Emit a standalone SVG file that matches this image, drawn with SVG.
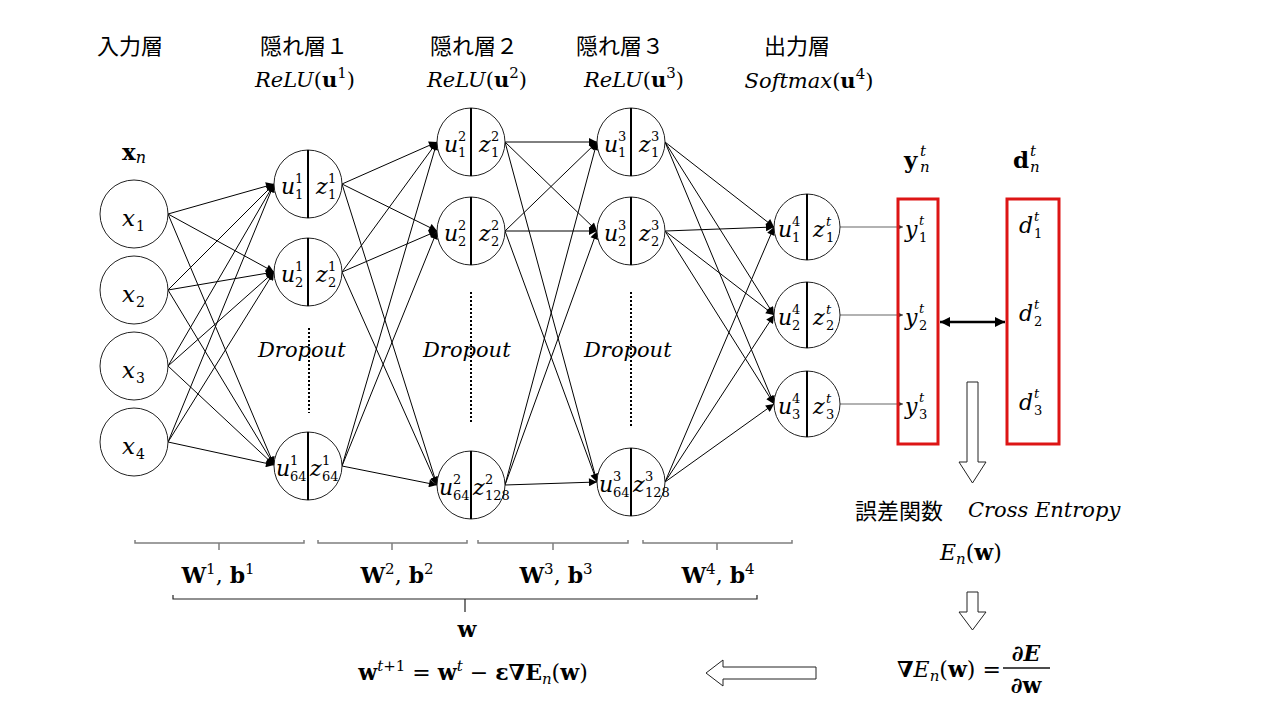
<svg xmlns="http://www.w3.org/2000/svg" width="1280" height="720" viewBox="0 0 1280 720">
<style>
text{fill:#000}
.nd circle{fill:#fff;stroke:#222;stroke-width:1}
.nd line{stroke:#000;stroke-width:2}
.m{font-family:"DejaVu Serif",serif;font-style:italic;font-size:22px}
.s{font-size:13px;font-style:normal}
.si{font-size:13px;font-style:italic}
.xi{font-family:"DejaVu Serif",serif;font-style:italic;font-size:23px}
.xs{font-size:14px;font-style:normal}
.jp{font-family:"Noto Sans CJK JP",sans-serif;font-size:22px}
.f{font-family:"DejaVu Serif",serif;font-size:21px}
.bd{font-weight:bold;font-style:normal}
.it{font-style:italic}
.up{font-style:normal;font-weight:normal}
.sup{font-size:15px}
.e line{stroke:#000;stroke-width:1}
.o line{stroke:#666;stroke-width:1.2}
.br{fill:none;stroke:#7f7f7f;stroke-width:1.5}
.bb{fill:none;stroke:#222;stroke-width:1.2}
.ha{fill:#fff;stroke:#222;stroke-width:1}
.rb{fill:none;stroke:#dd1515;stroke-width:3}
</style>
<defs>
<marker id="ah" viewBox="0 0 10 10" refX="10" refY="5" markerWidth="10" markerHeight="8" markerUnits="userSpaceOnUse" orient="auto"><path d="M0,0 L10,5 L0,10 z" fill="#000"/></marker>
<marker id="as" viewBox="0 0 10 10" refX="10" refY="5" markerWidth="6" markerHeight="6" markerUnits="userSpaceOnUse" orient="auto"><path d="M0,0 L10,5 L0,10 z" fill="#333"/></marker>
<marker id="ad" viewBox="0 0 10 10" refX="10" refY="5" markerWidth="11" markerHeight="10" markerUnits="userSpaceOnUse" orient="auto-start-reverse"><path d="M0,0 L10,5 L0,10 z" fill="#000"/></marker>
</defs>

<!-- headers -->
<g id="headers">
<text class="jp" x="97" y="54">入力層</text>
<text class="jp" x="260" y="54">隠れ層１</text>
<text class="jp" x="430" y="54">隠れ層２</text>
<text class="jp" x="576" y="54">隠れ層３</text>
<text class="jp" x="764" y="54">出力層</text>
<text class="m" x="305" y="87" text-anchor="middle" style="font-size:21px">ReLU<tspan class="up">(</tspan><tspan class="bd">u</tspan><tspan class="sup up" dy="-9">1</tspan><tspan class="up" dy="9">)</tspan></text>
<text class="m" x="477" y="87" text-anchor="middle" style="font-size:21px">ReLU<tspan class="up">(</tspan><tspan class="bd">u</tspan><tspan class="sup up" dy="-9">2</tspan><tspan class="up" dy="9">)</tspan></text>
<text class="m" x="634" y="87" text-anchor="middle" style="font-size:21px">ReLU<tspan class="up">(</tspan><tspan class="bd">u</tspan><tspan class="sup up" dy="-9">3</tspan><tspan class="up" dy="9">)</tspan></text>
<text class="m" x="809" y="88" text-anchor="middle" style="font-size:21px">Softmax<tspan class="up">(</tspan><tspan class="bd">u</tspan><tspan class="sup up" dy="-9">4</tspan><tspan class="up" dy="9">)</tspan></text>
<text class="f" y="160" style="font-size:23px"><tspan class="bd" x="122">x</tspan><tspan class="it" style="font-size:16px" dy="3">n</tspan></text>
<text class="f" y="168" style="font-size:23px"><tspan class="bd" x="904">y</tspan><tspan class="it" style="font-size:15px" x="920" y="156">t</tspan><tspan class="it" style="font-size:15px" x="920" y="172">n</tspan></text>
<text class="f" y="168" style="font-size:23px"><tspan class="bd" x="1013">d</tspan><tspan class="it" style="font-size:15px" x="1030" y="156">t</tspan><tspan class="it" style="font-size:15px" x="1030" y="172">n</tspan></text>
</g>

<!-- connectors -->
<g id="connectors">
<g class="e">
<line x1="168" y1="214" x2="274" y2="184" marker-end="url(#ah)"/>
<line x1="168" y1="214" x2="274" y2="272" marker-end="url(#ah)"/>
<line x1="168" y1="214" x2="274" y2="465" marker-end="url(#ah)"/>
<line x1="168" y1="290" x2="274" y2="184" marker-end="url(#ah)"/>
<line x1="168" y1="290" x2="274" y2="272" marker-end="url(#ah)"/>
<line x1="168" y1="290" x2="274" y2="465" marker-end="url(#ah)"/>
<line x1="168" y1="366" x2="274" y2="184" marker-end="url(#ah)"/>
<line x1="168" y1="366" x2="274" y2="272" marker-end="url(#ah)"/>
<line x1="168" y1="366" x2="274" y2="465" marker-end="url(#ah)"/>
<line x1="168" y1="442" x2="274" y2="184" marker-end="url(#ah)"/>
<line x1="168" y1="442" x2="274" y2="272" marker-end="url(#ah)"/>
<line x1="168" y1="442" x2="274" y2="465" marker-end="url(#ah)"/>

<line x1="342" y1="184" x2="437" y2="142" marker-end="url(#ah)"/>
<line x1="342" y1="184" x2="437" y2="231" marker-end="url(#ah)"/>
<line x1="342" y1="184" x2="437" y2="485" marker-end="url(#ah)"/>
<line x1="342" y1="272" x2="437" y2="142" marker-end="url(#ah)"/>
<line x1="342" y1="272" x2="437" y2="231" marker-end="url(#ah)"/>
<line x1="342" y1="272" x2="437" y2="485" marker-end="url(#ah)"/>
<line x1="342" y1="466" x2="437" y2="142" marker-end="url(#ah)"/>
<line x1="342" y1="466" x2="437" y2="231" marker-end="url(#ah)"/>
<line x1="342" y1="466" x2="437" y2="485" marker-end="url(#ah)"/>

<line x1="505" y1="142" x2="597" y2="142" marker-end="url(#ah)"/>
<line x1="505" y1="142" x2="597" y2="231" marker-end="url(#ah)"/>
<line x1="505" y1="142" x2="597" y2="482" marker-end="url(#ah)"/>
<line x1="505" y1="231" x2="597" y2="142" marker-end="url(#ah)"/>
<line x1="505" y1="231" x2="597" y2="231" marker-end="url(#ah)"/>
<line x1="505" y1="231" x2="597" y2="482" marker-end="url(#ah)"/>
<line x1="505" y1="485" x2="597" y2="142" marker-end="url(#ah)"/>
<line x1="505" y1="485" x2="597" y2="231" marker-end="url(#ah)"/>
<line x1="505" y1="485" x2="597" y2="482" marker-end="url(#ah)"/>

<line x1="665" y1="142" x2="774" y2="227" marker-end="url(#ah)"/>
<line x1="665" y1="142" x2="774" y2="315" marker-end="url(#ah)"/>
<line x1="665" y1="142" x2="774" y2="404" marker-end="url(#ah)"/>
<line x1="665" y1="231" x2="774" y2="227" marker-end="url(#ah)"/>
<line x1="665" y1="231" x2="774" y2="315" marker-end="url(#ah)"/>
<line x1="665" y1="231" x2="774" y2="404" marker-end="url(#ah)"/>
<line x1="665" y1="482" x2="774" y2="227" marker-end="url(#ah)"/>
<line x1="665" y1="482" x2="774" y2="315" marker-end="url(#ah)"/>
<line x1="665" y1="482" x2="774" y2="404" marker-end="url(#ah)"/>
</g>
<g class="o">
<line x1="840" y1="227" x2="903" y2="227" marker-end="url(#as)"/>
<line x1="840" y1="315" x2="903" y2="315" marker-end="url(#as)"/>
<line x1="840" y1="404" x2="903" y2="404" marker-end="url(#as)"/>
</g>
<line x1="940" y1="322" x2="1005" y2="322" stroke="#000" stroke-width="2.5" marker-start="url(#ad)" marker-end="url(#ad)"/>
</g>

<!-- input layer -->
<g id="x1" class="nd"><circle cx="134" cy="214" r="34"/><text class="xi" y="226"><tspan x="122">x</tspan><tspan class="xs" x="136" y="231">1</tspan></text></g>
<g id="x2" class="nd"><circle cx="134" cy="290" r="34"/><text class="xi" y="302"><tspan x="122">x</tspan><tspan class="xs" x="136" y="307">2</tspan></text></g>
<g id="x3" class="nd"><circle cx="134" cy="366" r="34"/><text class="xi" y="378"><tspan x="122">x</tspan><tspan class="xs" x="136" y="383">3</tspan></text></g>
<g id="x4" class="nd"><circle cx="134" cy="442" r="34"/><text class="xi" y="454"><tspan x="122">x</tspan><tspan class="xs" x="136" y="459">4</tspan></text></g>

<!-- hidden layer 1 -->
<g id="h1_1" class="nd"><circle cx="308" cy="184" r="34"/><line x1="308" y1="150" x2="308" y2="218"/>
<text class="m" y="194"><tspan x="281">u</tspan><tspan class="s" x="295" y="183">1</tspan><tspan class="s" x="295" y="199">1</tspan><tspan x="316" y="194">z</tspan><tspan class="s" x="328" y="183">1</tspan><tspan class="s" x="328" y="199">1</tspan></text></g>
<g id="h1_2" class="nd"><circle cx="308" cy="272" r="34"/><line x1="308" y1="238" x2="308" y2="306"/>
<text class="m" y="282"><tspan x="281">u</tspan><tspan class="s" x="295" y="271">1</tspan><tspan class="s" x="295" y="287">2</tspan><tspan x="316" y="282">z</tspan><tspan class="s" x="328" y="271">1</tspan><tspan class="s" x="328" y="287">2</tspan></text></g>
<g id="h1_64" class="nd"><circle cx="308" cy="466" r="34"/><line x1="308" y1="432" x2="308" y2="500"/>
<text class="m" y="476"><tspan x="276">u</tspan><tspan class="s" x="290" y="465">1</tspan><tspan class="s" x="290" y="481">64</tspan><tspan x="310" y="476">z</tspan><tspan class="s" x="322" y="465">1</tspan><tspan class="s" x="322" y="481">64</tspan></text></g>

<!-- hidden layer 2 -->
<g id="h2_1" class="nd"><circle cx="471" cy="142" r="34"/><line x1="471" y1="108" x2="471" y2="176"/>
<text class="m" y="152"><tspan x="444">u</tspan><tspan class="s" x="458" y="141">2</tspan><tspan class="s" x="458" y="157">1</tspan><tspan x="479" y="152">z</tspan><tspan class="s" x="491" y="141">2</tspan><tspan class="s" x="491" y="157">1</tspan></text></g>
<g id="h2_2" class="nd"><circle cx="471" cy="231" r="34"/><line x1="471" y1="197" x2="471" y2="265"/>
<text class="m" y="241"><tspan x="444">u</tspan><tspan class="s" x="458" y="230">2</tspan><tspan class="s" x="458" y="246">2</tspan><tspan x="479" y="241">z</tspan><tspan class="s" x="491" y="230">2</tspan><tspan class="s" x="491" y="246">2</tspan></text></g>
<g id="h2_128" class="nd"><circle cx="471" cy="485" r="34"/><line x1="471" y1="451" x2="471" y2="519"/>
<text class="m" y="495"><tspan x="439">u</tspan><tspan class="s" x="453" y="484">2</tspan><tspan class="s" x="453" y="500">64</tspan><tspan x="473" y="495">z</tspan><tspan class="s" x="485" y="484">2</tspan><tspan class="s" x="485" y="500">128</tspan></text></g>

<!-- hidden layer 3 -->
<g id="h3_1" class="nd"><circle cx="631" cy="142" r="34"/><line x1="631" y1="108" x2="631" y2="176"/>
<text class="m" y="152"><tspan x="604">u</tspan><tspan class="s" x="618" y="141">3</tspan><tspan class="s" x="618" y="157">1</tspan><tspan x="639" y="152">z</tspan><tspan class="s" x="651" y="141">3</tspan><tspan class="s" x="651" y="157">1</tspan></text></g>
<g id="h3_2" class="nd"><circle cx="631" cy="231" r="34"/><line x1="631" y1="197" x2="631" y2="265"/>
<text class="m" y="241"><tspan x="604">u</tspan><tspan class="s" x="618" y="230">3</tspan><tspan class="s" x="618" y="246">2</tspan><tspan x="639" y="241">z</tspan><tspan class="s" x="651" y="230">3</tspan><tspan class="s" x="651" y="246">2</tspan></text></g>
<g id="h3_128" class="nd"><circle cx="631" cy="482" r="34"/><line x1="631" y1="448" x2="631" y2="516"/>
<text class="m" y="492"><tspan x="599">u</tspan><tspan class="s" x="613" y="481">3</tspan><tspan class="s" x="613" y="497">64</tspan><tspan x="633" y="492">z</tspan><tspan class="s" x="645" y="481">3</tspan><tspan class="s" x="645" y="497">128</tspan></text></g>

<!-- output layer -->
<g id="o1" class="nd"><circle cx="807" cy="227" r="33"/><line x1="807" y1="194" x2="807" y2="260"/>
<text class="m" y="237"><tspan x="778">u</tspan><tspan class="s" x="792" y="226">4</tspan><tspan class="s" x="792" y="242">1</tspan><tspan x="813" y="237">z</tspan><tspan class="si" x="826" y="226">t</tspan><tspan class="s" x="826" y="242">1</tspan></text></g>
<g id="o2" class="nd"><circle cx="807" cy="315" r="33"/><line x1="807" y1="282" x2="807" y2="348"/>
<text class="m" y="325"><tspan x="778">u</tspan><tspan class="s" x="792" y="314">4</tspan><tspan class="s" x="792" y="330">2</tspan><tspan x="813" y="325">z</tspan><tspan class="si" x="826" y="314">t</tspan><tspan class="s" x="826" y="330">2</tspan></text></g>
<g id="o3" class="nd"><circle cx="807" cy="404" r="33"/><line x1="807" y1="371" x2="807" y2="437"/>
<text class="m" y="414"><tspan x="778">u</tspan><tspan class="s" x="792" y="403">4</tspan><tspan class="s" x="792" y="419">3</tspan><tspan x="813" y="414">z</tspan><tspan class="si" x="826" y="403">t</tspan><tspan class="s" x="826" y="419">3</tspan></text></g>

<!-- dropout markers -->
<g id="dropout">
<line x1="309" y1="328" x2="309" y2="413" stroke="#000" stroke-width="2" stroke-dasharray="2,2"/>
<line x1="471" y1="292" x2="471" y2="424" stroke="#000" stroke-width="2" stroke-dasharray="2,2"/>
<line x1="631" y1="292" x2="631" y2="428" stroke="#000" stroke-width="2" stroke-dasharray="2,2"/>
<text class="m" x="258" y="357" style="font-size:21px">Dropout</text>
<text class="m" x="423" y="357" style="font-size:21px">Dropout</text>
<text class="m" x="584" y="357" style="font-size:21px">Dropout</text>
</g>

<!-- output vector y -->
<g id="yvec">
<rect class="rb" x="898" y="199" width="40" height="245"/>
<text class="m" y="237"><tspan x="905">y</tspan><tspan class="si" x="919" y="225">t</tspan><tspan class="s" x="919" y="242">1</tspan></text>
<text class="m" y="325"><tspan x="905">y</tspan><tspan class="si" x="919" y="313">t</tspan><tspan class="s" x="919" y="330">2</tspan></text>
<text class="m" y="414"><tspan x="905">y</tspan><tspan class="si" x="919" y="402">t</tspan><tspan class="s" x="919" y="419">3</tspan></text>
</g>
<!-- target vector d -->
<g id="dvec">
<rect class="rb" x="1007" y="199" width="52" height="245"/>
<text class="m" y="233"><tspan x="1019">d</tspan><tspan class="si" x="1034" y="221">t</tspan><tspan class="s" x="1034" y="238">1</tspan></text>
<text class="m" y="321"><tspan x="1019">d</tspan><tspan class="si" x="1034" y="309">t</tspan><tspan class="s" x="1034" y="326">2</tspan></text>
<text class="m" y="410"><tspan x="1019">d</tspan><tspan class="si" x="1034" y="398">t</tspan><tspan class="s" x="1034" y="415">3</tspan></text>
</g>

<!-- error function -->
<g id="loss">
<polygon class="ha" points="967,382 978,382 978,462 986,462 972.5,483 959,462 967,462"/>
<text class="jp" x="855" y="519">誤差関数</text>
<text class="m" x="968" y="517" style="font-size:21px">Cross Entropy</text>
<text class="f" x="940" y="560" style="font-size:22px"><tspan class="it">E</tspan><tspan class="it" style="font-size:15px" dy="4">n</tspan><tspan dy="-4">(</tspan><tspan class="bd">w</tspan>)</text>
<polygon class="ha" points="967,592 978,592 978,612 986,612 972.5,630 959,612 967,612"/>
</g>

<!-- gradient -->
<g id="grad">
<text class="f" x="897" y="677" style="font-size:22px"><tspan class="bd">∇</tspan><tspan class="it">E</tspan><tspan class="it" style="font-size:15px" dy="4">n</tspan><tspan dy="-4">(</tspan><tspan class="bd">w</tspan>) =</text>
<text class="f" x="1026" y="661" text-anchor="middle" style="font-size:22px"><tspan class="bd">∂</tspan><tspan class="bd it">E</tspan></text>
<line x1="1003" y1="668" x2="1050" y2="668" stroke="#111" stroke-width="1.5"/>
<text class="f" x="1026" y="693" text-anchor="middle" style="font-size:22px"><tspan class="bd">∂w</tspan></text>
<polygon class="ha" points="816,667 816,679 723,679 723,686 706,673 723,660 723,667"/>
</g>

<!-- parameter brackets -->
<g id="params">
<path class="br" d="M135,540 V543 H304 V540 M219,543 V550"/>
<path class="br" d="M318,540 V543 H467 V540 M392,543 V550"/>
<path class="br" d="M478,540 V543 H628 V540 M553,543 V550"/>
<path class="br" d="M643,540 V543 H792 V540 M717,543 V550"/>
<text class="f" x="218" y="583" text-anchor="middle" style="font-size:22px"><tspan class="bd">W</tspan><tspan class="sup" dy="-9">1</tspan><tspan dy="9">, </tspan><tspan class="bd">b</tspan><tspan class="sup" dy="-9">1</tspan></text>
<text class="f" x="397" y="583" text-anchor="middle" style="font-size:22px"><tspan class="bd">W</tspan><tspan class="sup" dy="-9">2</tspan><tspan dy="9">, </tspan><tspan class="bd">b</tspan><tspan class="sup" dy="-9">2</tspan></text>
<text class="f" x="556" y="583" text-anchor="middle" style="font-size:22px"><tspan class="bd">W</tspan><tspan class="sup" dy="-9">3</tspan><tspan dy="9">, </tspan><tspan class="bd">b</tspan><tspan class="sup" dy="-9">3</tspan></text>
<text class="f" x="718" y="583" text-anchor="middle" style="font-size:22px"><tspan class="bd">W</tspan><tspan class="sup" dy="-9">4</tspan><tspan dy="9">, </tspan><tspan class="bd">b</tspan><tspan class="sup" dy="-9">4</tspan></text>
<path class="bb" d="M173,595 V599 H757 V595 M465,599 V612"/>
<text class="f bd" x="467" y="637" text-anchor="middle" style="font-size:22px">w</text>
<text class="f" x="473" y="680" text-anchor="middle" style="font-size:22px"><tspan class="bd">w</tspan><tspan class="sup" dy="-9"><tspan class="it">t</tspan>+1</tspan><tspan dy="9"> = </tspan><tspan class="bd">w</tspan><tspan class="sup it" dy="-9">t</tspan><tspan dy="9"> − </tspan><tspan class="bd">ε∇E</tspan><tspan class="it" style="font-size:15px" dy="4">n</tspan><tspan dy="-4">(</tspan><tspan class="bd">w</tspan>)</text>
</g>
</svg>
